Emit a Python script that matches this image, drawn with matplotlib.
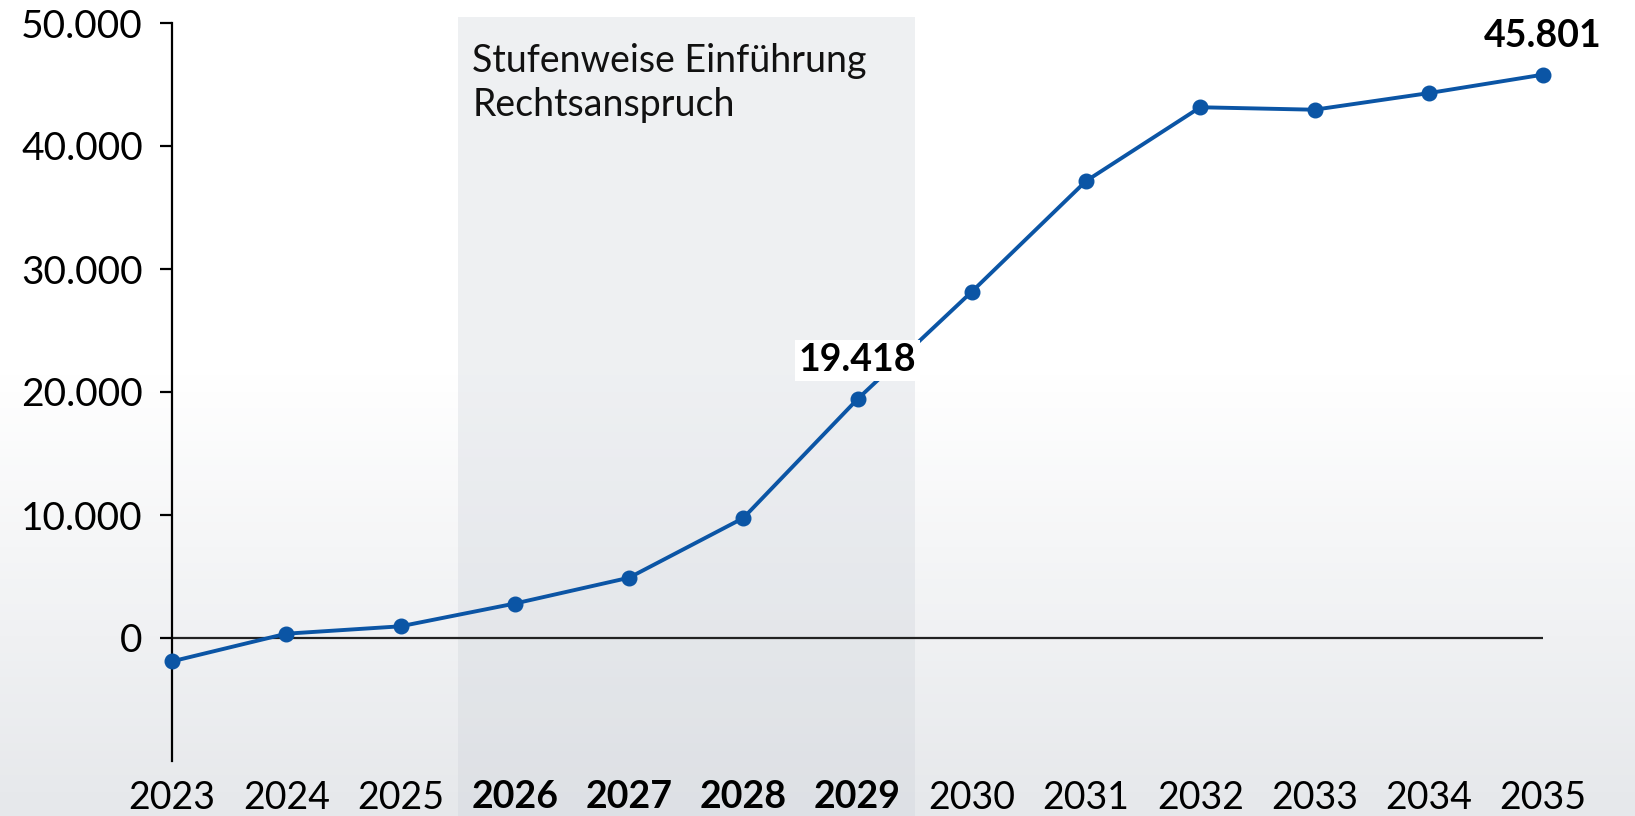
import numpy as np
import matplotlib.pyplot as plt
import matplotlib.transforms as mtransforms
from matplotlib.patches import Rectangle
from matplotlib.colors import LinearSegmentedColormap

plt.rcParams['font.family'] = ['Lato', 'DejaVu Sans']

# Data
years = [2023, 2024, 2025, 2026, 2027, 2028, 2029, 2030, 2031, 2032, 2033, 2034, 2035]
values = [-1900, 350, 950, 2800, 4900, 9750, 19418, 28150, 37150, 43150, 42950, 44300, 45801]
bold_years = [2026, 2027, 2028, 2029]
labelled = {2029: '19.418', 2035: '45.801'}
y_ticks = [0, 10000, 20000, 30000, 40000, 50000]
y_ticklabels = ['0', '10.000', '20.000', '30.000', '40.000', '50.000']
phase_text = 'Stufenweise Einführung\nRechtsanspruch'
phase_start, phase_end = 2025.5, 2029.5

line_color = '#0b55a5'

fig = plt.figure(figsize=(16.35, 8.16), dpi=100)

# background gradient: white at top, light grey at bottom
bg = fig.add_axes([0, 0, 1, 1], zorder=-2)
bg.axis('off')
grad = np.concatenate([np.zeros(45), np.linspace(0, 1, 55)])[:, None]
cmap = LinearSegmentedColormap.from_list('bg', ['#ffffff', '#e6e8eb'])
bg.imshow(grad, aspect='auto', cmap=cmap, extent=[0, 1, 0, 1], vmin=0, vmax=1)
bg.set_xlim(0, 1)
bg.set_ylim(0, 1)

ax = fig.add_axes([172 / 1635, 55 / 816, (1543 - 172) / 1635, (761 - 23) / 816])
ax.patch.set_alpha(0)

# shaded phase, running from above the plot down to the figure bottom
trans = mtransforms.blended_transform_factory(ax.transData, fig.transFigure)
ax.add_patch(Rectangle((phase_start, 0), phase_end - phase_start, 1 - 16.5 / 816,
                       transform=trans, facecolor=(0.80, 0.82, 0.85), alpha=0.32,
                       edgecolor='none', clip_on=False, zorder=0))
ax.text(2025.63, 48400, phase_text, fontsize=27, va='top', ha='left',
        linespacing=1.3, color='#111111')

ax.plot([years[0], years[-1]], [0, 0], color='#222222', lw=1.6, zorder=1)
ax.plot(years, values, color=line_color, lw=2.8, marker='o', markersize=10.5,
        zorder=3, clip_on=False)

for yr, txt in labelled.items():
    v = values[years.index(yr)]
    if yr == 2029:
        ax.annotate(txt, (yr, v), xytext=(0, 28), textcoords='offset points',
                    ha='center', va='center', fontsize=27, fontweight='bold',
                    bbox=dict(boxstyle='square,pad=0.1', fc='white', ec='none'),
                    zorder=4)
    else:
        ax.annotate(txt, (yr, v), xytext=(0, 28), textcoords='offset points',
                    ha='center', va='center', fontsize=27, fontweight='bold',
                    zorder=4)

ax.set_xlim(2023, 2035)
ax.set_ylim(-10000, 50000)
ax.set_yticks(y_ticks)
ax.set_yticklabels(y_ticklabels, fontsize=28)
ax.set_xticks(years)
ax.set_xticklabels([str(y) for y in years], fontsize=27)
for lab, yr in zip(ax.get_xticklabels(), years):
    if yr in bold_years:
        lab.set_fontweight('bold')

for s in ['top', 'right', 'bottom']:
    ax.spines[s].set_visible(False)
ax.spines['left'].set_linewidth(1.6)
ax.spines['left'].set_bounds(-10000, 50000)
ax.tick_params(axis='y', length=9, width=1.6, pad=12)
ax.tick_params(axis='x', length=0, pad=14)

fig.savefig('out.png', dpi=100)
